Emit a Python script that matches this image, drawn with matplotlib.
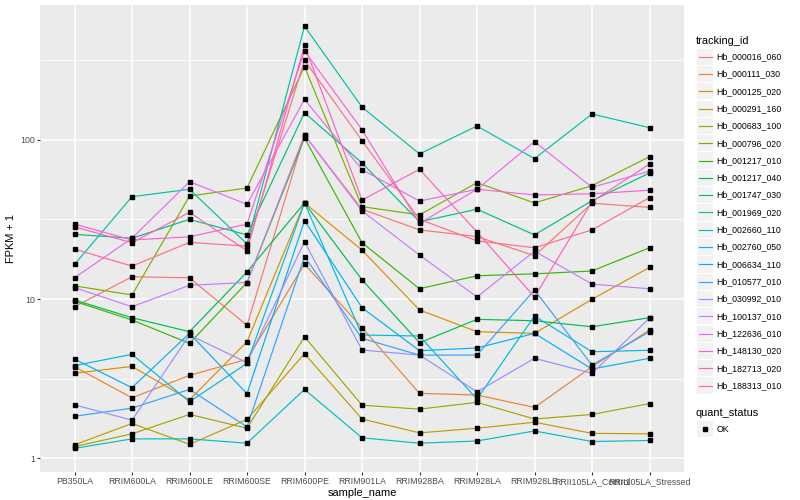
import matplotlib
matplotlib.use("Agg")
import matplotlib.pyplot as plt
from matplotlib.lines import Line2D
from matplotlib.patches import Rectangle
import numpy as np

plt.rcParams['font.family'] = ['Liberation Sans', 'DejaVu Sans']

samples = ["PB350LA", "RRIM600LA", "RRIM600LE", "RRIM600SE", "RRIM600PE", "RRIM901LA",
           "RRIM928BA", "RRIM928LA", "RRIM928LE", "RRII105LA_Control", "RRII105LA_Stressed"]

tracking_ids = ["Hb_000016_060", "Hb_000111_030", "Hb_000125_020", "Hb_000291_160",
                "Hb_000683_100", "Hb_000796_020", "Hb_001217_010", "Hb_001217_040",
                "Hb_001747_030", "Hb_001969_020", "Hb_002660_110", "Hb_002760_050",
                "Hb_006634_110", "Hb_010577_010", "Hb_030992_010", "Hb_100137_010",
                "Hb_122636_010", "Hb_148130_020", "Hb_182713_020", "Hb_188313_010"]

# FPKM + 1 per sample
Hb_000016_060 = [8.94, 13.8, 13.6, 6.83, 107.5, 36.7, 27.2, 24.7, 18.7, 40.0, 37.7]
Hb_000111_030 = [3.75, 2.39, 3.31, 4.18, 16.6, 6.60, 2.55, 2.49, 2.08, 3.75, 6.38]
Hb_000125_020 = [3.41, 3.77, 2.32, 5.39, 40.2, 20.3, 8.53, 6.23, 6.08, 9.96, 15.8]
Hb_000291_160 = [1.21, 1.65, 1.22, 1.75, 4.53, 1.76, 1.44, 1.54, 1.68, 1.43, 1.42]
Hb_000683_100 = [1.18, 1.42, 1.88, 1.54, 5.79, 2.15, 2.03, 2.24, 1.76, 1.88, 2.20]
Hb_000796_020 = [12.1, 10.6, 44.4, 49.9, 289, 38.1, 33.8, 53.9, 40.2, 51.6, 78.5]
Hb_001217_010 = [9.67, 7.38, 5.26, 12.7, 103, 22.6, 11.6, 14.0, 14.4, 15.0, 21.0]
Hb_001217_040 = [9.86, 7.63, 6.23, 14.8, 40.2, 13.2, 5.31, 7.45, 7.30, 6.69, 7.63]
Hb_001747_030 = [25.5, 24.1, 31.7, 25.3, 148.5, 71.7, 30.6, 36.7, 25.3, 41.5, 62.0]
Hb_001969_020 = [16.5, 44.0, 49.0, 22.2, 519, 161, 81.7, 122.5, 76.3, 145.7, 119.5]
Hb_002660_110 = [1.15, 1.32, 1.32, 1.24, 2.70, 1.34, 1.24, 1.28, 1.48, 1.27, 1.29]
Hb_002760_050 = [3.81, 4.49, 2.26, 3.94, 40.2, 5.94, 5.85, 2.35, 7.82, 4.66, 4.76]
Hb_006634_110 = [4.19, 2.77, 6.08, 2.54, 31.1, 8.82, 4.73, 4.92, 6.08, 3.63, 4.24]
Hb_010577_010 = [1.83, 2.06, 2.70, 1.57, 18.5, 5.66, 4.44, 4.44, 11.4, 3.84, 6.23]
Hb_030992_010 = [2.16, 1.73, 5.94, 3.98, 22.9, 4.78, 4.44, 2.61, 4.24, 3.41, 7.59]
Hb_100137_010 = [11.8, 8.94, 12.2, 12.7, 107.5, 35.8, 18.9, 10.3, 20.0, 12.4, 11.6]
Hb_122636_010 = [13.6, 24.1, 54.7, 39.4, 180, 65.1, 41.3, 49.0, 97.6, 50.4, 63.6]
Hb_148130_020 = [29.6, 23.5, 24.6, 29.6, 363, 116, 29.9, 49.0, 45.1, 45.9, 48.3]
Hb_182713_020 = [28.4, 22.6, 35.1, 20.1, 394, 41.9, 65.4, 26.4, 10.3, 40.9, 70.6]
Hb_188313_010 = [20.6, 16.1, 22.7, 21.5, 317, 99.0, 31.7, 23.2, 21.0, 27.2, 43.4]

series = [Hb_000016_060, Hb_000111_030, Hb_000125_020, Hb_000291_160, Hb_000683_100,
          Hb_000796_020, Hb_001217_010, Hb_001217_040, Hb_001747_030, Hb_001969_020,
          Hb_002660_110, Hb_002760_050, Hb_006634_110, Hb_010577_010, Hb_030992_010,
          Hb_100137_010, Hb_122636_010, Hb_148130_020, Hb_182713_020, Hb_188313_010]

colors = ["#F8766D", "#EA8331", "#D89000", "#C09B00", "#A3A500", "#7CAE00", "#39B600",
          "#00BB4E", "#00BF7D", "#00C1A3", "#00BFC4", "#00BAE0", "#00B0F6", "#35A2FF",
          "#9590FF", "#C77CFF", "#E76BF3", "#FA62DB", "#FF62BC", "#FF6C91"]

W, H = 800, 500
fig = plt.figure(figsize=(8, 5), dpi=100)
L, R, T, B = 40, 684, 5, 472
ax = fig.add_axes([L / W, 1 - B / H, (R - L) / W, (B - T) / H])
ax.set_facecolor("#EBEBEB")
for s in ax.spines.values():
    s.set_visible(False)

x = np.arange(len(samples))
for vals, c in zip(series, colors):
    ax.plot(x, vals, color=c, lw=0.85, zorder=2, solid_capstyle="butt")
for vals in series:
    ax.plot(x, vals, linestyle="none", marker="s", markersize=2.6,
            color="black", zorder=3)

ax.set_yscale("log")
ax.set_ylim(0.817, 706)
ax.set_xlim(-0.6, len(samples) - 0.4)
ax.set_yticks([1, 10, 100])
ax.set_yticklabels(["1", "10", "100"])
ax.set_yticks([10 ** 0.5, 10 ** 1.5, 10 ** 2.5], minor=True)
ax.yaxis.set_minor_formatter(matplotlib.ticker.NullFormatter())
ax.set_xticks(x)
ax.set_xticklabels(samples)
ax.grid(which="major", color="white", lw=1.1, zorder=0)
ax.grid(which="minor", axis="y", color="white", lw=0.55, zorder=0)
ax.set_axisbelow(True)
ax.tick_params(which="major", length=2.2, width=0.8, color="#333333",
               labelsize=6.3, labelcolor="#4D4D4D", pad=1.5)
ax.tick_params(which="minor", length=0)
ax.set_xlabel("sample_name", fontsize=7.9, labelpad=1)
ax.set_ylabel("FPKM + 1", fontsize=7.9, labelpad=3)


def fx(px):
    return px / W


def fy(py):
    return 1 - py / H


# legend: tracking_id
fig.text(fx(696), fy(40.7), "tracking_id", fontsize=7.9, va="center", ha="left")
step = 17.31
for i, (tid, c) in enumerate(zip(tracking_ids, colors)):
    cy = 56.7 + i * step
    fig.add_artist(Rectangle((fx(697), fy(cy + 8.1)), 16 / W, 16.2 / H,
                             facecolor="#F2F2F2", edgecolor="none"))
    fig.add_artist(Line2D([fx(698.5), fx(711.5)], [fy(cy), fy(cy)], color=c, lw=0.85))
    fig.text(fx(716.5), fy(cy), tid, fontsize=6.3, va="center", ha="left")

# legend: quant_status
fig.text(fx(696), fy(412.7), "quant_status", fontsize=7.9, va="center", ha="left")
fig.add_artist(Rectangle((fx(697), fy(429.3 + 8.1)), 16 / W, 16.2 / H,
                         facecolor="#F2F2F2", edgecolor="none"))
fig.add_artist(Line2D([fx(705)], [fy(429.3)], marker="s", markersize=2.6,
                      color="black", linestyle="none"))
fig.text(fx(716.5), fy(429.3), "OK", fontsize=6.3, va="center", ha="left")

fig.savefig("out.png", dpi=100)
